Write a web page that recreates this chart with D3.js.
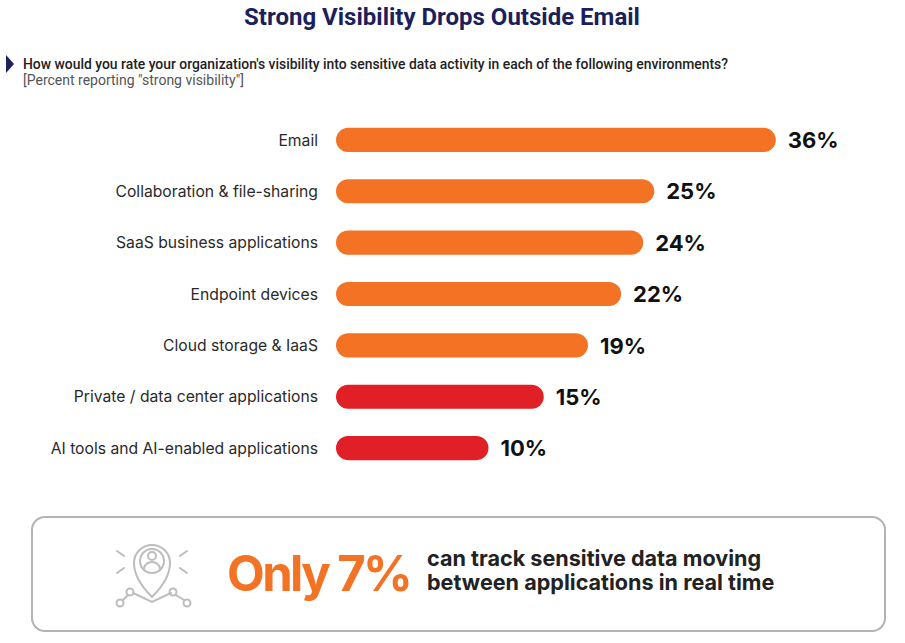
<!DOCTYPE html>
<html lang="en">

<head>
    <meta charset="UTF-8">
    <title>Strong Visibility Drops Outside Email</title>
    <script src="https://d3js.org/d3.v7.min.js"></script>
    <style>
        body { margin: 0; background: #fff; }
    </style>
</head>

<body>
    <script>
        var categories = ["Email", "Collaboration & file-sharing", "SaaS business applications",
            "Endpoint devices", "Cloud storage & IaaS", "Private / data center applications",
            "AI tools and AI-enabled applications"];
        var values = [36, 25, 24, 22, 19, 15, 10];
        var barGroups = ["high", "high", "high", "high", "high", "low", "low"];
        var calloutValue = 7;
        var calloutLines = ["can track sensitive data moving", "between applications in real time"];

        var width = 905;
        var height = 643;
        var svg = d3.select("body").append("svg")
            .attr("width", width)
            .attr("height", height);

        // title + question
        svg.append("text")
            .attr("x", 442).attr("y", 25)
            .attr("text-anchor", "middle")
            .attr("font-family", "Roboto")
            .attr("font-weight", "bold")
            .attr("font-size", 24)
            .attr("fill", "#1b1f5c")
            .text("Strong Visibility Drops Outside Email");

        svg.append("path")
            .attr("d", "M6,55 L14,64 L6,73 Z")
            .attr("fill", "#1b1f5c");

        svg.append("text")
            .attr("x", 23).attr("y", 69)
            .attr("font-family", "Roboto")
            .attr("font-weight", 500)
            .attr("font-size", 13.9)
            .attr("fill", "#222")
            .text("How would you rate your organization's visibility into sensitive data activity in each of the following environments?");

        svg.append("text")
            .attr("x", 23).attr("y", 85)
            .attr("font-family", "Roboto")
            .attr("font-size", 14)
            .attr("fill", "#555")
            .text("[Percent reporting \"strong visibility\"]");

        // bars
        var left = 336;
        var xScale = d3.scaleLinear()
            .domain([0, 40])
            .range([42, 484]);

        var yScale = d3.scaleBand()
            .domain(categories)
            .range([114, 474])
            .paddingInner(0.53)
            .paddingOuter(0.27);

        var color = d3.scaleOrdinal()
            .domain(["high", "low"])
            .range(["#f37224", "#e11f26"]);

        var rows = svg.selectAll("g.row")
            .data(categories)
            .enter()
            .append("g")
            .attr("class", "row")
            .attr("transform", function (d) {
                return "translate(0," + yScale(d) + ")";
            });

        rows.append("rect")
            .attr("x", left)
            .attr("y", 0)
            .attr("height", yScale.bandwidth())
            .attr("width", function (d, i) { return xScale(values[i]); })
            .attr("rx", yScale.bandwidth() / 2)
            .attr("fill", function (d, i) { return color(barGroups[i]); });

        rows.append("text")
            .attr("x", 318)
            .attr("y", yScale.bandwidth() / 2)
            .attr("dy", "0.36em")
            .attr("text-anchor", "end")
            .attr("font-family", "Inter")
            .attr("font-size", 15.7)
            .attr("fill", "#2a2a2a")
            .text(function (d) { return d; });

        rows.append("text")
            .attr("x", function (d, i) { return left + xScale(values[i]) + 12; })
            .attr("y", yScale.bandwidth() / 2)
            .attr("dy", "0.37em")
            .attr("font-family", "Inter")
            .attr("font-weight", "bold")
            .attr("font-size", 22)
            .attr("fill", "#111")
            .text(function (d, i) { return values[i] + "%"; });

        // callout box
        svg.append("rect")
            .attr("x", 32).attr("y", 517)
            .attr("width", 853).attr("height", 114)
            .attr("rx", 13)
            .attr("fill", "#fff")
            .attr("stroke", "#b3b3b3")
            .attr("stroke-width", 2);

        var icon = svg.append("g")
            .attr("fill", "none")
            .attr("stroke", "#bdbdbd")
            .attr("stroke-width", 2)
            .attr("stroke-linecap", "round");
        icon.append("path")
            .attr("d", "M152,597 C140,585 134,574 134,563 A18,18 0 1 1 170,563 C170,574 164,585 152,597 Z");
        icon.append("circle").attr("cx", 152).attr("cy", 561).attr("r", 12);
        icon.append("circle").attr("cx", 152).attr("cy", 556).attr("r", 4);
        icon.append("path").attr("d", "M144,569 A8,7 0 0 1 160,569");
        icon.append("path").attr("d", "M117,551 L124,556 M117,573 L124,568 M187,551 L180,556 M187,573 L180,568");
        icon.append("path").attr("d", "M123,600 L128,595 M133,593 L152,602 L171,593 M176,595 L184,600");
        [[120, 603], [130, 592], [173, 592], [187, 603]].forEach(function (p) {
            icon.append("circle").attr("cx", p[0]).attr("cy", p[1]).attr("r", 3.5);
        });

        svg.append("text")
            .attr("x", 227).attr("y", 591)
            .attr("font-family", "Inter")
            .attr("font-weight", "bold")
            .attr("font-size", 49)
            .attr("letter-spacing", -2.6)
            .attr("fill", "#f37224")
            .text("Only " + calloutValue + "%");

        svg.append("text")
            .attr("x", 427)
            .attr("y", 566)
            .attr("font-family", "Inter")
            .attr("font-weight", "bold")
            .attr("font-size", 21.6)
            .attr("fill", "#222")
            .selectAll("tspan")
            .data(calloutLines)
            .enter()
            .append("tspan")
            .attr("x", 427)
            .attr("dy", function (d, i) { return i === 0 ? 0 : 24; })
            .text(function (d) { return d; });
    </script>
</body>

</html>
